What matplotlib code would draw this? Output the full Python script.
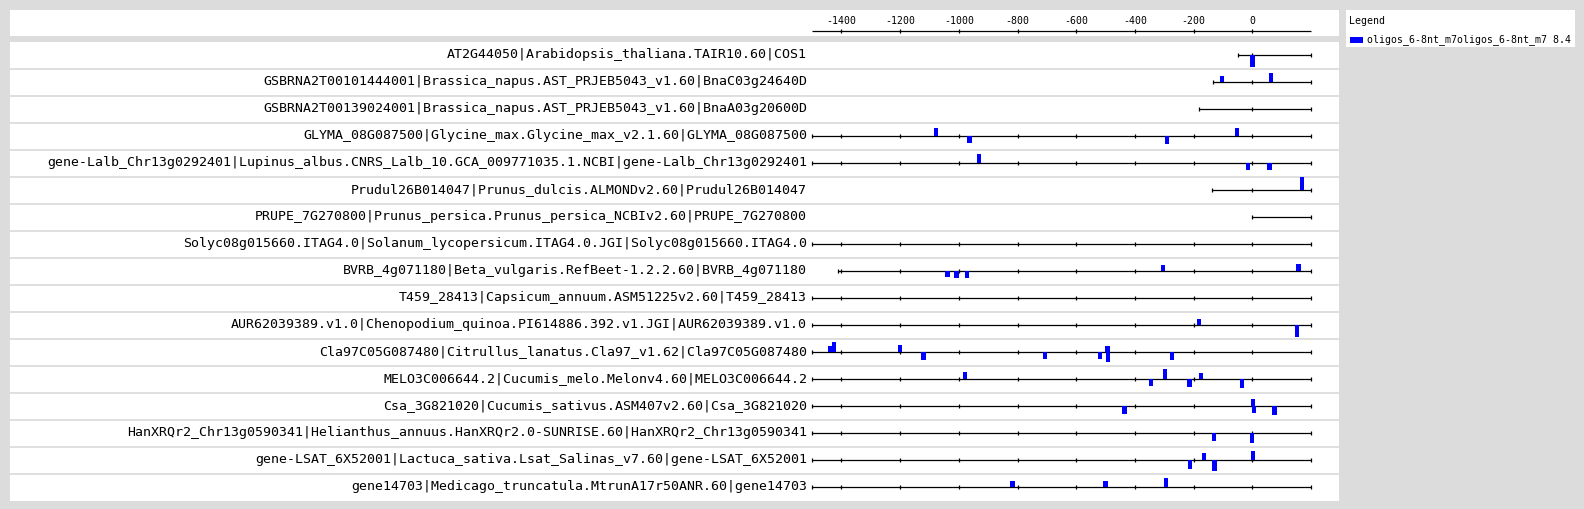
import matplotlib
matplotlib.use("Agg")
import matplotlib.pyplot as plt

# ---------------- data ----------------
names = [
    "AT2G44050|Arabidopsis_thaliana.TAIR10.60|COS1",
    "GSBRNA2T00101444001|Brassica_napus.AST_PRJEB5043_v1.60|BnaC03g24640D",
    "GSBRNA2T00139024001|Brassica_napus.AST_PRJEB5043_v1.60|BnaA03g20600D",
    "GLYMA_08G087500|Glycine_max.Glycine_max_v2.1.60|GLYMA_08G087500",
    "gene-Lalb_Chr13g0292401|Lupinus_albus.CNRS_Lalb_10.GCA_009771035.1.NCBI|gene-Lalb_Chr13g0292401",
    "Prudul26B014047|Prunus_dulcis.ALMONDv2.60|Prudul26B014047",
    "PRUPE_7G270800|Prunus_persica.Prunus_persica_NCBIv2.60|PRUPE_7G270800",
    "Solyc08g015660.ITAG4.0|Solanum_lycopersicum.ITAG4.0.JGI|Solyc08g015660.ITAG4.0",
    "BVRB_4g071180|Beta_vulgaris.RefBeet-1.2.2.60|BVRB_4g071180",
    "T459_28413|Capsicum_annuum.ASM51225v2.60|T459_28413",
    "AUR62039389.v1.0|Chenopodium_quinoa.PI614886.392.v1.JGI|AUR62039389.v1.0",
    "Cla97C05G087480|Citrullus_lanatus.Cla97_v1.62|Cla97C05G087480",
    "MELO3C006644.2|Cucumis_melo.Melonv4.60|MELO3C006644.2",
    "Csa_3G821020|Cucumis_sativus.ASM407v2.60|Csa_3G821020",
    "HanXRQr2_Chr13g0590341|Helianthus_annuus.HanXRQr2.0-SUNRISE.60|HanXRQr2_Chr13g0590341",
    "gene-LSAT_6X52001|Lactuca_sativa.Lsat_Salinas_v7.60|gene-LSAT_6X52001",
    "gene14703|Medicago_truncatula.MtrunA17r50ANR.60|gene14703",
]
starts = [-50, -134, -181, -1500, -1500, -139, 0, -1500, -1410, -1500,
          -1500, -1500, -1500, -1500, -1500, -1500, -1500]
end_pos = 200

hit_pos = [
    [0],
    [-104, 63],
    [],
    [-1077, -963, -290, -52],
    [-931, -15, 58],
    [169],
    [],
    [],
    [-1039, -1008, -973, -305, 157],
    [],
    [-181, 152],
    [-1439, -1426, -1200, -1120, -707, -519, -494, -491, -273],
    [-978, -345, -297, -214, -175, -36],
    [-436, 2, 6, 75],
    [-130, -1],
    [-213, -165, -129, 2],
    [-817, -501, -294],
]
hit_strand = [
    [-1],
    [1, 1],
    [],
    [1, -1, -1, 1],
    [1, -1, -1],
    [1],
    [],
    [],
    [-1, -1, -1, 1, 1],
    [],
    [1, -1],
    [1, 1, 1, -1, -1, -1, 1, -1, -1],
    [1, -1, 1, -1, 1, -1],
    [-1, 1, -1, -1],
    [-1, -1],
    [-1, 1, -1, 1],
    [1, 1, 1],
]
hit_score = [
    [11.8],
    [6.1, 9.4],
    [],
    [8.1, 7.1, 8.1, 8.1],
    [9.4, 7.4, 7.4],
    [12.5],
    [],
    [],
    [6.4, 7.4, 7.4, 6.4, 7.4],
    [],
    [5.8, 12.2],
    [5.8, 9.8, 7.1, 8.4, 7.1, 7.1, 5.8, 10.4, 8.4],
    [7.4, 7.1, 10.1, 8.1, 6.1, 9.1],
    [8.1, 7.1, 7.1, 9.1],
    [7.8, 10.4],
    [8.8, 7.4, 10.8, 9.4],
    [6.4, 6.4, 9.4],
]
axis_ticks = [-1400, -1200, -1000, -800, -600, -400, -200, 0]
axis_start, axis_end = -1500, 200
legend_label = "oligos_6-8nt_m7oligos_6-8nt_m7 8.4"

# ---------------- layout ----------------
W, H = 1584, 509
BG = "#dcdcdc"
BLUE = "#0000ff"
MONO = "DejaVu Sans Mono"
fig = plt.figure(figsize=(W / 100, H / 100), dpi=100, facecolor=BG)

# horizontal scale (pixels per sequence unit) and pixel of position 0
px_per_u = 0.2936
x0px = 1252.4
def u_of(px):
    return (px - x0px) / px_per_u

def make_ax(left, top, right, bottom):
    ax = fig.add_axes([left / W, 1 - bottom / H, (right - left) / W, (bottom - top) / H])
    ax.set_facecolor("white")
    for s in ax.spines.values():
        s.set_visible(False)
    ax.set_xticks([])
    ax.set_yticks([])
    return ax

# top axis panel
axt = make_ax(10, 10, 1339, 35.5)
axt.set_xlim(u_of(10), u_of(1339))
axt.set_ylim(35.5, 10)
axis_y = 30.8
axt.hlines(axis_y, axis_start, axis_end, color="black", lw=0.9)
axt.vlines(axis_ticks, axis_y - 2.3, axis_y + 2.3, color="black", lw=0.9)
for t in axis_ticks:
    axt.text(t, 21.3, str(t), ha="center", va="center", fontsize=7.1,
             family=MONO, color="black")

# rows panel
row_top, row_h = 42, 27
n = len(names)
axr = make_ax(10, row_top, 1339, row_top + row_h * n)
axr.set_xlim(u_of(10), u_of(1339))
axr.set_ylim(row_top + row_h * n, row_top)
bar_w = 15
label_x = u_of(807)
for i, name in enumerate(names):
    y = row_top + row_h * i + 13
    if i > 0:
        axr.axhline(row_top + row_h * i, color="#d9d9d9", lw=1.2)
    s = starts[i]
    axr.hlines(y, s, end_pos, color="black", lw=0.9)
    ticks = [t for t in axis_ticks if s < t < end_pos] + [s, end_pos]
    axr.vlines(ticks, y - 2.3, y + 2.3, color="black", lw=0.9)
    axr.text(label_x, y, name, ha="right", va="center", fontsize=9.52,
             family=MONO, color="black")
    for p, st, sc in zip(hit_pos[i], hit_strand[i], hit_score[i]):
        axr.bar(p, -sc * st, bottom=y, width=bar_w, color=BLUE,
                linewidth=0, zorder=3)

# legend panel
axl = make_ax(1346, 10, 1575, 47)
axl.set_xlim(1346, 1575)
axl.set_ylim(47, 10)
axl.text(1349, 21.5, "Legend", ha="left", va="center", fontsize=7.1,
         family=MONO, color="black")
axl.bar(1356.5, 6, bottom=36.7, width=13, color=BLUE, linewidth=0)
axl.text(1367, 39.5, legend_label, ha="left", va="center", fontsize=7.1,
         family=MONO, color="black")

fig.savefig("out.png", dpi=100, facecolor=BG)
